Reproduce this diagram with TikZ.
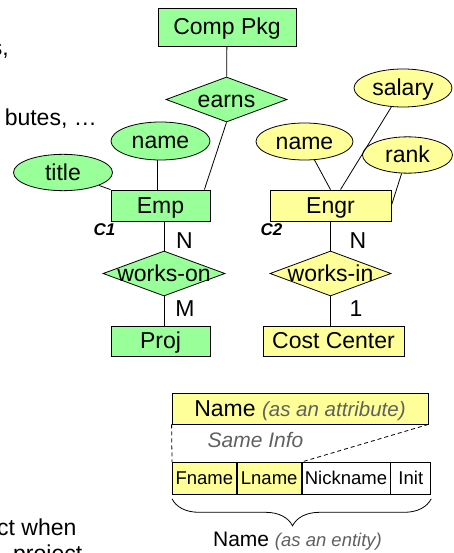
\documentclass[tikz,border=0pt]{standalone}
\usepackage{fontspec}
\setmainfont{Liberation Sans}
\usetikzlibrary{shapes.geometric,decorations.pathreplacing}
\definecolor{erGreen}{RGB}{153,255,153}
\definecolor{erYellow}{RGB}{255,255,153}
\definecolor{noteGray}{RGB}{96,96,96}
\newcommand{\erfont}{\fontsize{23pt}{27pt}\selectfont}
\newcommand{\reltxt}[1]{\makebox[0pt]{#1}}

\begin{document}
\begin{tikzpicture}[x=1pt,y=-1pt,
  ent/.style={draw,line width=0.8pt,rectangle,inner sep=0pt,minimum height=31pt,font=\erfont,text height=20.8pt,text depth=4.9pt},
  rel/.style={draw,line width=0.8pt,diamond,aspect=2.7,inner sep=0pt,minimum width=121pt,minimum height=45pt,font=\erfont,text height=20.8pt,text depth=4.9pt},
  att/.style={draw,line width=0.8pt,ellipse,inner sep=0pt,minimum width=98pt,minimum height=37pt,font=\erfont,text height=20.8pt,text depth=4.9pt},
  card/.style={font=\erfont,anchor=base,inner sep=0pt},
  cname/.style={font=\fontsize{17pt}{20pt}\selectfont\bfseries\itshape,anchor=base,inner sep=0pt},
  cell/.style={draw,line width=0.8pt,rectangle,inner sep=0pt,minimum height=32pt,font=\fontsize{18.5pt}{22pt}\selectfont,text height=16.7pt,text depth=3.9pt},
  slide/.style={font=\erfont,inner sep=0pt},
  link/.style={line width=0.8pt},
  dashlink/.style={line width=0.8pt,dash pattern=on 4pt off 3pt}]
\useasboundingbox (0,0) rectangle (453,553);
\clip (0,0) rectangle (453,553);

\node[slide,anchor=base east] (txta) at (9,56) {s,};
\node[slide,anchor=base east] (txtb) at (97,125.5) {butes, …};
\node[slide,anchor=base west] (txtc) at (-3,535) {ct when};
\node[slide,anchor=base west] (txtd) at (13,561) {project};

\node[ent,fill=erGreen,minimum width=138pt,minimum height=38pt] (comp) at (227,27) {Comp Pkg};
\node[rel,fill=erGreen] (earns) at (226.5,99.5) {\reltxt{earns}};
\node[att,fill=erGreen,minimum width=99pt,minimum height=38pt] (gname) at (160.5,141) {name};
\node[att,fill=erGreen,minimum width=99pt,minimum height=35pt] (title) at (63,172.5) {title};
\node[ent,fill=erGreen,minimum width=99pt] (emp) at (160.5,205.5) {Emp};
\node[rel,fill=erGreen,minimum width=122pt] (workson) at (164,273.5) {\reltxt{works-on}};
\node[ent,fill=erGreen,minimum width=99pt,minimum height=30pt] (proj) at (160.5,341) {Proj};

\node[att,fill=erYellow,minimum width=98pt,minimum height=38pt] (salary) at (403,88) {salary};
\node[att,fill=erYellow,minimum width=97pt] (ename) at (304.5,141.5) {name};
\node[att,fill=erYellow,minimum width=90pt,minimum height=36pt] (rank) at (407.5,155) {rank};
\node[ent,fill=erYellow,minimum width=121pt] (engr) at (330.5,205.5) {Engr};
\node[rel,fill=erYellow] (worksin) at (330.5,273.5) {\reltxt{works-in}};
\node[ent,fill=erYellow,minimum width=141pt,minimum height=30pt] (cost) at (333.5,341) {Cost Center};

\draw[link] (comp) -- (earns);
\draw[link] (earns.south) -- ([xshift=-6pt]emp.north east);
\draw[link] ([xshift=-3.5pt]gname.south) -- ([xshift=-3.5pt]gname.south |- emp.north);
\draw[link] (title) -- (emp.north west);
\draw[link] (workson.north) -- (workson.north |- emp.south);
\draw[link] (workson.south) -- (workson.south |- proj.north);
\draw[link] (ename) -- (engr.north);
\draw[link] (salary) -- ([xshift=10pt]engr.north);
\draw[link] (rank) -- (engr.east);
\draw[link] (worksin.north) -- (worksin.north |- engr.south);
\draw[link] (worksin.south) -- (worksin.south |- cost.north);

\node[cname] (c1) at (104.5,235) {C1};
\node[cname] (c2) at (271.5,235) {C2};
\node[card] (n1) at (184.5,248.5) {N};
\node[card] (m1) at (185,316.5) {M};
\node[card] (n2) at (358,248.5) {N};
\node[card] (one) at (356,316.5) {1};

\node[ent,fill=erYellow,minimum width=256pt] (attr) at (300,408.5) {Name \textcolor{noteGray}{\fontsize{20.5pt}{24pt}\selectfont\itshape (as an attribute)}};
\node[cell,fill=erYellow,minimum width=64pt,anchor=north west] (fname) at (172,462) {Fname};
\node[cell,fill=erYellow,minimum width=64pt,anchor=west] (lname) at (fname.east) {Lname};
\node[cell,fill=white,minimum width=88pt,anchor=west] (nick) at (lname.east) {Nickname};
\node[cell,fill=white,minimum width=40pt,anchor=west] (init) at (nick.east) {Init};
\draw[dashlink] (attr.south west) -- (fname.north west);
\draw[dashlink] (attr.south east) -- (lname.north east);
\node[font=\fontsize{21pt}{25pt}\selectfont\itshape,text=noteGray,anchor=base,inner sep=0pt] (same) at (255.5,447) {Same Info};
\draw[link,decorate,decoration={brace,mirror,amplitude=27pt,aspect=0.465}] ([yshift=-4pt]fname.south west) -- ([yshift=-4pt]init.south east);
\node[font=\fontsize{21pt}{25pt}\selectfont,anchor=base,inner sep=0pt] (entname) at (297.5,546.5) {Name \textcolor{noteGray}{\fontsize{18.5pt}{22pt}\selectfont\itshape (as an entity)}};

\end{tikzpicture}
\end{document}
